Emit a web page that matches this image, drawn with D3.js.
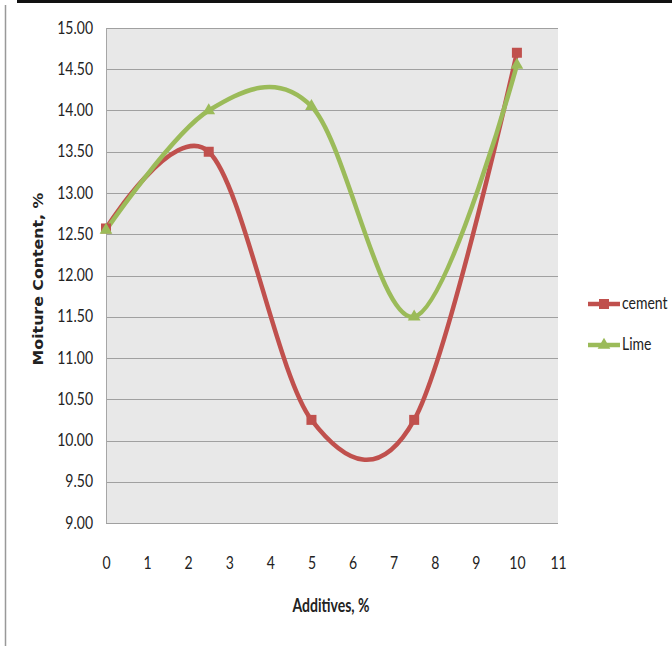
<!DOCTYPE html>
<html><head><meta charset="utf-8">
<script src="https://cdn.jsdelivr.net/npm/d3@7/dist/d3.min.js"></script>
<style>
body{margin:0;background:#fff;}
svg{display:block;}
text{font-family:Lato,"Open Sans",sans-serif;fill:#222;}
</style></head>
<body>
<script>
const additives = [0, 2.5, 5, 7.5, 10];
const cement = [12.57, 13.50, 10.25, 10.25, 14.70];
const lime = [12.55, 14.00, 14.05, 11.50, 14.55];
const xTicks = [0,1,2,3,4,5,6,7,8,9,10,11];
const yTicks = [9.0,9.5,10.0,10.5,11.0,11.5,12.0,12.5,13.0,13.5,14.0,14.5,15.0];
const seriesNames = ["cement","Lime"];

const W = 672, H = 646;
const L = 106, R = 558, T = 28, B = 523;
const svg = d3.select("body").append("svg").attr("width", W).attr("height", H);

// frame
svg.append("rect").attr("x",17).attr("y",0).attr("width",W-17).attr("height",3).attr("fill","#111");
svg.append("line").attr("x1",5.5).attr("x2",5.5).attr("y1",5).attr("y2",H).attr("stroke","#999").attr("stroke-width",1.5);

const x = d3.scaleLinear().domain([0,11]).range([L,R]);
const y = d3.scaleLinear().domain([9,15]).range([B,T]);

svg.append("rect").attr("x",L).attr("y",T).attr("width",R-L).attr("height",B-T).attr("fill","#e8e8e8");

// grid
svg.append("g").selectAll("line").data(yTicks).join("line")
  .attr("x1",L).attr("x2",R)
  .attr("y1",d=>Math.round(y(d))+0.5).attr("y2",d=>Math.round(y(d))+0.5)
  .attr("stroke","#a0a0a0").attr("stroke-width",1.2);
svg.append("line").attr("x1",L+0.5).attr("x2",L+0.5).attr("y1",T).attr("y2",B).attr("stroke","#a6a6a6");

// y axis labels
const yAxis = d3.axisLeft(y).tickValues(yTicks).tickFormat(d3.format(".2f")).tickSize(0).tickPadding(13);
const gy = svg.append("g").attr("transform",`translate(${L},0)`).call(yAxis);
gy.select(".domain").remove();
gy.selectAll("text").style("font-size","14px").style("fill","#222").style("font-family","Lato")
  .attr("x",null).attr("dy",null).attr("transform","translate(-13,5) scale(1,1.2)");

// x axis labels
const xAxis = d3.axisBottom(x).tickValues(xTicks).tickFormat(d3.format("d")).tickSize(0).tickPadding(31);
const gx = svg.append("g").attr("transform",`translate(0,${B})`).call(xAxis);
gx.select(".domain").remove();
gx.selectAll("text").style("font-size","14px").style("fill","#222").style("font-family","Lato")
  .attr("y",null).attr("dy",null).attr("transform","translate(0,46) scale(1,1.2)");

// titles
svg.append("text").attr("transform","translate(331,612) scale(1,1.3)").attr("text-anchor","middle")
  .style("font-size","14px").style("font-weight","bold").text("Additives, %");
svg.append("text").attr("transform","translate(43,279) rotate(-90) scale(1.17,1)").attr("text-anchor","middle")
  .style("font-size","13.5px").style("font-weight","bold")
  .style("font-family","'DejaVu Sans',sans-serif").text("Moiture Content, %");

const colors = ["#c0504d","#9bbb59"];
const line = d3.line().curve(d3.curveCardinal.tension(0)).x(d=>x(d[0])).y(d=>y(d[1]));
const sets = [cement, lime];

sets.forEach((vals,i)=>{
  const pts = additives.map((a,j)=>[a,vals[j]]);
  svg.append("path").attr("d",line(pts)).attr("fill","none").attr("stroke",colors[i]).attr("stroke-width",4.5).attr("stroke-linejoin","round");
});
// markers
svg.append("g").selectAll("rect").data(additives.map((a,j)=>[a,cement[j]])).join("rect")
  .attr("x",d=>x(d[0])-5).attr("y",d=>y(d[1])-5).attr("width",10).attr("height",10).attr("fill",colors[0]);
const tri = d3.symbol().type(d3.symbolTriangle).size(70);
svg.append("g").selectAll("path").data(additives.map((a,j)=>[a,lime[j]])).join("path")
  .attr("transform",d=>`translate(${x(d[0])},${y(d[1])})`).attr("d",tri()).attr("fill",colors[1]);

// legend
const legY = [304, 345];
seriesNames.forEach((n,i)=>{
  svg.append("line").attr("x1",588).attr("x2",620).attr("y1",legY[i]).attr("y2",legY[i]).attr("stroke",colors[i]).attr("stroke-width",4.5);
  if(i===0) svg.append("rect").attr("x",599).attr("y",legY[i]-5).attr("width",10).attr("height",10).attr("fill",colors[i]);
  else svg.append("path").attr("transform",`translate(604,${legY[i]})`).attr("d",tri()).attr("fill",colors[i]);
  svg.append("text").attr("transform",`translate(622,${legY[i]+5}) scale(1,1.2)`).style("font-size","14px").text(n);
});
</script>
</body></html>
